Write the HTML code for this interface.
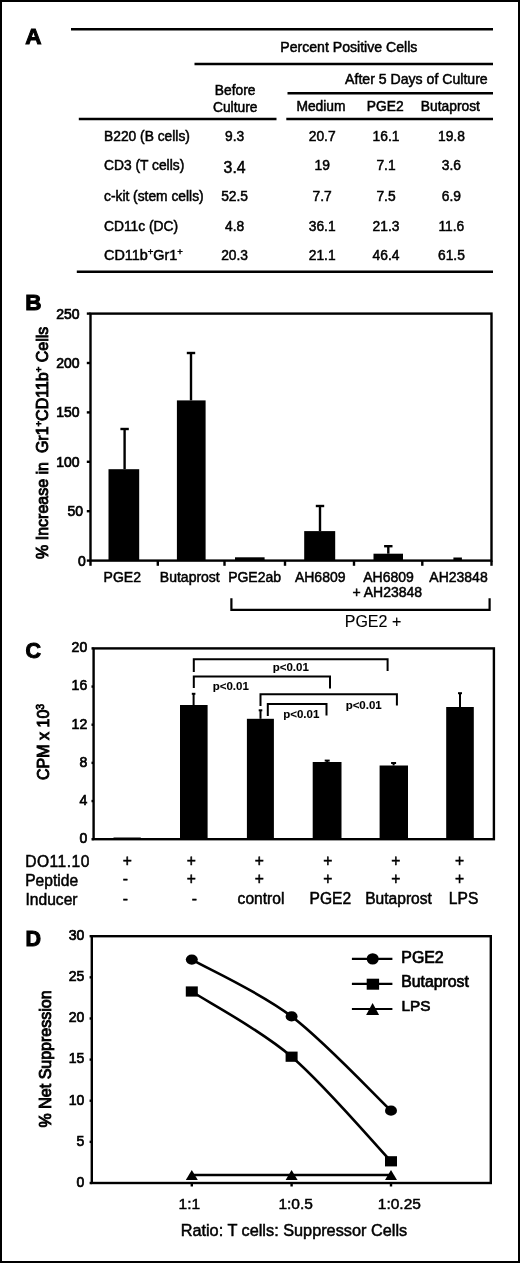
<!DOCTYPE html>
<html><head><meta charset="utf-8"><style>
html,body{margin:0;padding:0;background:#fff;}
svg{display:block;font-family:"Liberation Sans", sans-serif;will-change:transform;}
text{fill:#000;stroke:#000;stroke-width:0.5px;}
</style></head><body>
<svg width="520" height="1263" viewBox="0 0 520 1263">
<rect x="1" y="1" width="518" height="1261" fill="none" stroke="#000" stroke-width="2"/>
<text x="25.3" y="43.8" font-size="22.5" text-anchor="start" font-weight="bold" style="stroke-width:1.0px" >A</text>
<line x1="71" y1="29.2" x2="493" y2="29.2" stroke="#000" stroke-width="2.4"/>
<line x1="194.5" y1="64" x2="493" y2="64" stroke="#000" stroke-width="2.4"/>
<line x1="287.5" y1="93.2" x2="493" y2="93.2" stroke="#000" stroke-width="2.4"/>
<line x1="78.8" y1="119" x2="276.5" y2="119" stroke="#000" stroke-width="2.4"/>
<line x1="286.3" y1="119" x2="493" y2="119" stroke="#000" stroke-width="2.4"/>
<line x1="76.8" y1="271.7" x2="493" y2="271.7" stroke="#000" stroke-width="2.4"/>
<text x="348.8" y="51.7" font-size="14.1" text-anchor="middle" >Percent Positive Cells</text>
<text x="416.4" y="84" font-size="14.1" text-anchor="middle" >After 5 Days of Culture</text>
<text x="235.2" y="95" font-size="13.8" text-anchor="middle" >Before</text>
<text x="235.2" y="111.6" font-size="13.8" text-anchor="middle" >Culture</text>
<text x="321" y="110.9" font-size="13.8" text-anchor="middle" >Medium</text>
<text x="385.2" y="110.9" font-size="13.8" text-anchor="middle" >PGE2</text>
<text x="450.4" y="110.9" font-size="13.8" text-anchor="middle" >Butaprost</text>
<text x="104" y="140.6" font-size="13.8" text-anchor="start" >B220 (B cells)</text>
<text x="234.6" y="140.6" font-size="13.8" text-anchor="middle" >9.3</text>
<text x="322.2" y="140.6" font-size="13.8" text-anchor="middle" >20.7</text>
<text x="386" y="140.6" font-size="13.8" text-anchor="middle" >16.1</text>
<text x="451.4" y="140.6" font-size="13.8" text-anchor="middle" >19.8</text>
<text x="104" y="170.4" font-size="13.8" text-anchor="start" >CD3 (T cells)</text>
<text x="234.6" y="172.5" font-size="15.8" text-anchor="middle" >3.4</text>
<text x="322.2" y="170.4" font-size="13.8" text-anchor="middle" >19</text>
<text x="386" y="170.4" font-size="13.8" text-anchor="middle" >7.1</text>
<text x="451.4" y="170.4" font-size="13.8" text-anchor="middle" >3.6</text>
<text x="104" y="200.9" font-size="13.8" text-anchor="start" >c-kit (stem cells)</text>
<text x="234.6" y="200.9" font-size="13.8" text-anchor="middle" >52.5</text>
<text x="322.2" y="200.9" font-size="13.8" text-anchor="middle" >7.7</text>
<text x="386" y="200.9" font-size="13.8" text-anchor="middle" >7.5</text>
<text x="451.4" y="200.9" font-size="13.8" text-anchor="middle" >6.9</text>
<text x="104" y="231.2" font-size="13.8" text-anchor="start" >CD11c (DC)</text>
<text x="234.6" y="231.2" font-size="13.8" text-anchor="middle" >4.8</text>
<text x="322.2" y="231.2" font-size="13.8" text-anchor="middle" >36.1</text>
<text x="386" y="231.2" font-size="13.8" text-anchor="middle" >21.3</text>
<text x="451.4" y="231.2" font-size="13.8" text-anchor="middle" >11.6</text>
<text x="104" y="260.3" font-size="13.8" text-anchor="start" ><tspan font-size="14.4">CD11b<tspan font-size="9.5" dy="-5.5">+</tspan><tspan dy="5.5">Gr1</tspan><tspan font-size="9.5" dy="-5.5">+</tspan></tspan></text>
<text x="234.6" y="260.3" font-size="13.8" text-anchor="middle" >20.3</text>
<text x="322.2" y="260.3" font-size="13.8" text-anchor="middle" >21.1</text>
<text x="386" y="260.3" font-size="13.8" text-anchor="middle" >46.4</text>
<text x="451.4" y="260.3" font-size="13.8" text-anchor="middle" >61.5</text>
<text x="25.3" y="309.7" font-size="22.5" text-anchor="start" font-weight="bold" style="stroke-width:1.0px" >B</text>
<rect x="90.5" y="313.6" width="401.0" height="247.0" fill="none" stroke="#000" stroke-width="2.4"/>
<line x1="86.8" y1="560.6" x2="90.5" y2="560.6" stroke="#000" stroke-width="2.4"/>
<text x="85.8" y="565.6" font-size="14" text-anchor="end" style="stroke-width:0.7px" >0</text>
<line x1="86.8" y1="511.20000000000005" x2="90.5" y2="511.20000000000005" stroke="#000" stroke-width="2.4"/>
<text x="83.1" y="516.2" font-size="14" text-anchor="end" style="stroke-width:0.7px" >50</text>
<line x1="86.8" y1="461.8" x2="90.5" y2="461.8" stroke="#000" stroke-width="2.4"/>
<text x="79.5" y="466.8" font-size="14" text-anchor="end" style="stroke-width:0.7px" >100</text>
<line x1="86.8" y1="412.40000000000003" x2="90.5" y2="412.40000000000003" stroke="#000" stroke-width="2.4"/>
<text x="79.5" y="417.4" font-size="14" text-anchor="end" style="stroke-width:0.7px" >150</text>
<line x1="86.8" y1="363.0" x2="90.5" y2="363.0" stroke="#000" stroke-width="2.4"/>
<text x="79.5" y="368.0" font-size="14" text-anchor="end" style="stroke-width:0.7px" >200</text>
<line x1="86.8" y1="313.6" x2="90.5" y2="313.6" stroke="#000" stroke-width="2.4"/>
<text x="79.5" y="318.6" font-size="14" text-anchor="end" style="stroke-width:0.7px" >250</text>
<line x1="90.5" y1="560.6" x2="90.5" y2="565.8" stroke="#000" stroke-width="2.4"/>
<line x1="157.8" y1="560.6" x2="157.8" y2="565.8" stroke="#000" stroke-width="2.4"/>
<line x1="224.5" y1="560.6" x2="224.5" y2="565.8" stroke="#000" stroke-width="2.4"/>
<line x1="285" y1="560.6" x2="285" y2="565.8" stroke="#000" stroke-width="2.4"/>
<line x1="354" y1="560.6" x2="354" y2="565.8" stroke="#000" stroke-width="2.4"/>
<line x1="422.3" y1="560.6" x2="422.3" y2="565.8" stroke="#000" stroke-width="2.4"/>
<line x1="491.5" y1="560.6" x2="491.5" y2="565.8" stroke="#000" stroke-width="2.4"/>
<rect x="108.5" y="469.2" width="30.7" height="91.4" fill="#000"/>
<rect x="176.9" y="400.4" width="28.7" height="160.2" fill="#000"/>
<rect x="235" y="557.3" width="29.6" height="3.3" fill="#000"/>
<rect x="304.2" y="531.1" width="31.0" height="29.5" fill="#000"/>
<rect x="373.5" y="553.7" width="29.5" height="6.9" fill="#000"/>
<rect x="453.4" y="557.5" width="8.5" height="3.1" fill="#000"/>
<line x1="124.6" y1="429" x2="124.6" y2="469.2" stroke="#000" stroke-width="2.4"/>
<line x1="120.39999999999999" y1="429" x2="128.79999999999998" y2="429" stroke="#000" stroke-width="2.4"/>
<line x1="191" y1="353" x2="191" y2="400.4" stroke="#000" stroke-width="2.4"/>
<line x1="186.8" y1="353" x2="195.2" y2="353" stroke="#000" stroke-width="2.4"/>
<line x1="320" y1="506" x2="320" y2="531.1" stroke="#000" stroke-width="2.4"/>
<line x1="315.8" y1="506" x2="324.2" y2="506" stroke="#000" stroke-width="2.4"/>
<line x1="388.3" y1="546.2" x2="388.3" y2="553.7" stroke="#000" stroke-width="2.4"/>
<line x1="384.1" y1="546.2" x2="392.5" y2="546.2" stroke="#000" stroke-width="2.4"/>
<text x="122.3" y="582.2" font-size="14" text-anchor="middle" >PGE2</text>
<text x="189.8" y="582.2" font-size="14" text-anchor="middle" >Butaprost</text>
<text x="254.6" y="582.2" font-size="14" text-anchor="middle" >PGE2ab</text>
<text x="320.2" y="582.2" font-size="14" text-anchor="middle" >AH6809</text>
<text x="388.5" y="582.2" font-size="14" text-anchor="middle" >AH6809</text>
<text x="387.3" y="597.2" font-size="14" text-anchor="middle" >+ AH23848</text>
<text x="458.5" y="582.2" font-size="14" text-anchor="middle" >AH23848</text>
<polyline points="231.4,598.2 231.4,609.8 489.6,609.8 489.6,598.2" fill="none" stroke="#000" stroke-width="2.2" stroke-linejoin="miter"/>
<text x="373" y="626.6" font-size="16" text-anchor="middle" style="stroke-width:0.15px" >PGE2 +</text>
<text transform="translate(47.6,442.8) rotate(-90)" font-size="16" text-anchor="middle" style="stroke-width:0.9px">% Increase in  Gr1<tspan font-size="9.5" dy="-6">+</tspan><tspan dy="6">CD11b</tspan><tspan font-size="9.5" dy="-6">+</tspan><tspan dy="6"> Cells</tspan></text>
<text x="25.5" y="658" font-size="21.5" text-anchor="start" font-weight="bold" style="stroke-width:1.0px" >C</text>
<rect x="93.6" y="648.4" width="400.29999999999995" height="190.80000000000007" fill="none" stroke="#000" stroke-width="2.4"/>
<line x1="91.5" y1="839.2" x2="93.6" y2="839.2" stroke="#000" stroke-width="2.4"/>
<text x="87.2" y="843.0" font-size="14" text-anchor="end" style="stroke-width:0.7px" >0</text>
<line x1="91.5" y1="801.0400000000001" x2="93.6" y2="801.0400000000001" stroke="#000" stroke-width="2.4"/>
<text x="87.2" y="804.84" font-size="14" text-anchor="end" style="stroke-width:0.7px" >4</text>
<line x1="91.5" y1="762.88" x2="93.6" y2="762.88" stroke="#000" stroke-width="2.4"/>
<text x="87.2" y="766.68" font-size="14" text-anchor="end" style="stroke-width:0.7px" >8</text>
<line x1="91.5" y1="724.72" x2="93.6" y2="724.72" stroke="#000" stroke-width="2.4"/>
<text x="87.2" y="728.52" font-size="14" text-anchor="end" style="stroke-width:0.7px" >12</text>
<line x1="91.5" y1="686.56" x2="93.6" y2="686.56" stroke="#000" stroke-width="2.4"/>
<text x="87.2" y="690.36" font-size="14" text-anchor="end" style="stroke-width:0.7px" >16</text>
<line x1="91.5" y1="648.4" x2="93.6" y2="648.4" stroke="#000" stroke-width="2.4"/>
<text x="87.2" y="652.2" font-size="14" text-anchor="end" style="stroke-width:0.7px" >20</text>
<rect x="113.5" y="837.5" width="27.3" height="1.7" fill="#000"/>
<rect x="180" y="705" width="27.6" height="134.2" fill="#000"/>
<rect x="246.9" y="718.8" width="27.0" height="120.4" fill="#000"/>
<rect x="312.7" y="762" width="28.8" height="77.2" fill="#000"/>
<rect x="379.6" y="765.5" width="28.4" height="73.7" fill="#000"/>
<rect x="446.2" y="707" width="27.6" height="132.2" fill="#000"/>
<line x1="193.6" y1="693.8" x2="193.6" y2="705" stroke="#000" stroke-width="2"/>
<line x1="191.79999999999998" y1="693.8" x2="195.4" y2="693.8" stroke="#000" stroke-width="2"/>
<line x1="260.5" y1="710.3" x2="260.5" y2="718.8" stroke="#000" stroke-width="2"/>
<line x1="258.7" y1="710.3" x2="262.3" y2="710.3" stroke="#000" stroke-width="2"/>
<line x1="327.2" y1="760.6" x2="327.2" y2="762" stroke="#000" stroke-width="2"/>
<line x1="324.7" y1="760.6" x2="329.7" y2="760.6" stroke="#000" stroke-width="2"/>
<line x1="393.6" y1="763" x2="393.6" y2="765.5" stroke="#000" stroke-width="2"/>
<line x1="391.1" y1="763" x2="396.1" y2="763" stroke="#000" stroke-width="2"/>
<line x1="460" y1="693.2" x2="460" y2="707" stroke="#000" stroke-width="2"/>
<line x1="458" y1="693.2" x2="462" y2="693.2" stroke="#000" stroke-width="2"/>
<polyline points="193.8,672 193.8,659.2 387.6,659.2 387.6,671" fill="none" stroke="#000" stroke-width="2" stroke-linejoin="miter"/>
<polyline points="193.8,688 193.8,676.4 330,676.4 330,688.6" fill="none" stroke="#000" stroke-width="2" stroke-linejoin="miter"/>
<polyline points="260.5,706 260.5,694.2 396.9,694.2 396.9,705.4" fill="none" stroke="#000" stroke-width="2" stroke-linejoin="miter"/>
<polyline points="267.8,716 267.8,704 326.5,704 326.5,715.5" fill="none" stroke="#000" stroke-width="2" stroke-linejoin="miter"/>
<text x="290.8" y="671" font-size="11.5" text-anchor="middle" font-weight="bold" style="stroke-width:0.1px" >p&lt;0.01</text>
<text x="230.8" y="690" font-size="11.5" text-anchor="middle" font-weight="bold" style="stroke-width:0.1px" >p&lt;0.01</text>
<text x="363.7" y="709" font-size="11.5" text-anchor="middle" font-weight="bold" style="stroke-width:0.1px" >p&lt;0.01</text>
<text x="301.3" y="718.3" font-size="11.5" text-anchor="middle" font-weight="bold" style="stroke-width:0.1px" >p&lt;0.01</text>
<text x="25.2" y="867" font-size="15.6" text-anchor="start" letter-spacing="0.5">DO11.10</text>
<text x="25.2" y="886.3" font-size="15.6" text-anchor="start" >Peptide</text>
<text x="25.5" y="905.4" font-size="15.6" text-anchor="start" >Inducer</text>
<text x="127.3" y="865.5" font-size="15.6" text-anchor="middle" >+</text>
<text x="191.3" y="865.5" font-size="15.6" text-anchor="middle" >+</text>
<text x="259.2" y="865.5" font-size="15.6" text-anchor="middle" >+</text>
<text x="327.7" y="865.5" font-size="15.6" text-anchor="middle" >+</text>
<text x="395.7" y="865.5" font-size="15.6" text-anchor="middle" >+</text>
<text x="459.5" y="865.5" font-size="15.6" text-anchor="middle" >+</text>
<text x="125.4" y="883.6" font-size="15.6" text-anchor="middle" >-</text>
<text x="191.3" y="884.4" font-size="15.6" text-anchor="middle" >+</text>
<text x="259.2" y="884.4" font-size="15.6" text-anchor="middle" >+</text>
<text x="327.7" y="884.4" font-size="15.6" text-anchor="middle" >+</text>
<text x="395.7" y="884.4" font-size="15.6" text-anchor="middle" >+</text>
<text x="459.5" y="884.4" font-size="15.6" text-anchor="middle" >+</text>
<text x="125.4" y="904" font-size="15.6" text-anchor="middle" >-</text>
<text x="194.3" y="904" font-size="15.6" text-anchor="middle" >-</text>
<text x="261" y="903.8" font-size="15.6" text-anchor="middle" >control</text>
<text x="330.4" y="903.8" font-size="15.6" text-anchor="middle" >PGE2</text>
<text x="398.5" y="903.8" font-size="15.6" text-anchor="middle" >Butaprost</text>
<text x="463.6" y="903.8" font-size="15.6" text-anchor="middle" >LPS</text>
<text transform="translate(49.3,741.9) rotate(-90)" font-size="16" text-anchor="middle" style="stroke-width:0.9px">CPM x 10<tspan font-size="10.5" dy="-5.5">3</tspan></text>
<text x="25.5" y="945.6" font-size="21.5" text-anchor="start" font-weight="bold" style="stroke-width:1.0px" >D</text>
<rect x="91.8" y="936.2" width="399.0" height="246.79999999999995" fill="none" stroke="#000" stroke-width="2.4"/>
<line x1="89.6" y1="1183.0" x2="91.8" y2="1183.0" stroke="#000" stroke-width="2.4"/>
<text x="84.4" y="1186.8" font-size="14" text-anchor="end" style="stroke-width:0.7px" >0</text>
<line x1="89.6" y1="1141.8666666666668" x2="91.8" y2="1141.8666666666668" stroke="#000" stroke-width="2.4"/>
<text x="84.4" y="1145.67" font-size="14" text-anchor="end" style="stroke-width:0.7px" >5</text>
<line x1="89.6" y1="1100.7333333333333" x2="91.8" y2="1100.7333333333333" stroke="#000" stroke-width="2.4"/>
<text x="84.4" y="1104.53" font-size="14" text-anchor="end" style="stroke-width:0.7px" >10</text>
<line x1="89.6" y1="1059.6" x2="91.8" y2="1059.6" stroke="#000" stroke-width="2.4"/>
<text x="84.4" y="1063.4" font-size="14" text-anchor="end" style="stroke-width:0.7px" >15</text>
<line x1="89.6" y1="1018.4666666666667" x2="91.8" y2="1018.4666666666667" stroke="#000" stroke-width="2.4"/>
<text x="84.4" y="1022.27" font-size="14" text-anchor="end" style="stroke-width:0.7px" >20</text>
<line x1="89.6" y1="977.3333333333334" x2="91.8" y2="977.3333333333334" stroke="#000" stroke-width="2.4"/>
<text x="84.4" y="981.13" font-size="14" text-anchor="end" style="stroke-width:0.7px" >25</text>
<line x1="89.6" y1="936.2" x2="91.8" y2="936.2" stroke="#000" stroke-width="2.4"/>
<text x="84.4" y="940.0" font-size="14" text-anchor="end" style="stroke-width:0.7px" >30</text>
<line x1="191.8" y1="1183" x2="191.8" y2="1186.5" stroke="#000" stroke-width="2.4"/>
<line x1="291.6" y1="1183" x2="291.6" y2="1186.5" stroke="#000" stroke-width="2.4"/>
<line x1="391.0" y1="1183" x2="391.0" y2="1186.5" stroke="#000" stroke-width="2.4"/>
<text x="178.60000000000002" y="1209.4" font-size="15.5" text-anchor="start" >1:1</text>
<text x="278.40000000000003" y="1209.4" font-size="15.5" text-anchor="start" >1:0.5</text>
<text x="377.8" y="1209.4" font-size="15.5" text-anchor="start" >1:0.25</text>
<text x="293.9" y="1236.3" font-size="16.3" text-anchor="middle" >Ratio: T cells: Suppressor Cells</text>
<text transform="translate(51.3,1058.9) rotate(-90)" font-size="16" text-anchor="middle" style="stroke-width:0.9px">% Net Suppression</text>
<path d="M191.8,959.60 C208.43,969.07 258.40,991.22 291.60,1016.40 C324.80,1041.58 374.43,1094.98 391.00,1110.70" fill="none" stroke="#000" stroke-width="2.6"/>
<ellipse cx="191.8" cy="959.60" rx="6" ry="5.1" fill="#000"/>
<ellipse cx="291.6" cy="1016.40" rx="6" ry="5.1" fill="#000"/>
<ellipse cx="391.0" cy="1110.70" rx="6" ry="5.1" fill="#000"/>
<path d="M191.8,991.50 C208.43,1002.37 258.40,1028.40 291.60,1056.70 C324.80,1085.00 374.43,1143.87 391.00,1161.30" fill="none" stroke="#000" stroke-width="2.6"/>
<rect x="185.8" y="986.4" width="12.0" height="10.2" fill="#000"/>
<rect x="285.6" y="1051.6000000000001" width="12.0" height="10.2" fill="#000"/>
<rect x="385.0" y="1156.2" width="12.0" height="10.2" fill="#000"/>
<line x1="191.8" y1="1175" x2="391.0" y2="1175" stroke="#000" stroke-width="2.4"/>
<polygon points="185.8,1180 197.8,1180 191.8,1170" fill="#000"/>
<polygon points="285.6,1180 297.6,1180 291.6,1170" fill="#000"/>
<polygon points="385.0,1180 397.0,1180 391.0,1170" fill="#000"/>
<line x1="351.9" y1="958.9" x2="392.4" y2="958.9" stroke="#000" stroke-width="2.2"/>
<ellipse cx="372.7" cy="958.9" rx="6" ry="5.7" fill="#000"/>
<text x="401.3" y="962.9" font-size="15.9" text-anchor="start" style="stroke-width:0.7px" >PGE2</text>
<line x1="351.9" y1="983.9" x2="392.4" y2="983.9" stroke="#000" stroke-width="2.2"/>
<rect x="366.7" y="978.7" width="12.4" height="11.0" fill="#000"/>
<text x="401.3" y="986.9" font-size="15.8" text-anchor="start" style="stroke-width:0.7px" >Butaprost</text>
<line x1="351.9" y1="1009" x2="392.4" y2="1009" stroke="#000" stroke-width="2.2"/>
<polygon points="366.1,1015 379.1,1015 372.6,1003" fill="#000"/>
<text x="401.5" y="1011.4" font-size="15.3" text-anchor="start" style="stroke-width:0.7px" >LPS</text>
</svg>
</body></html>
